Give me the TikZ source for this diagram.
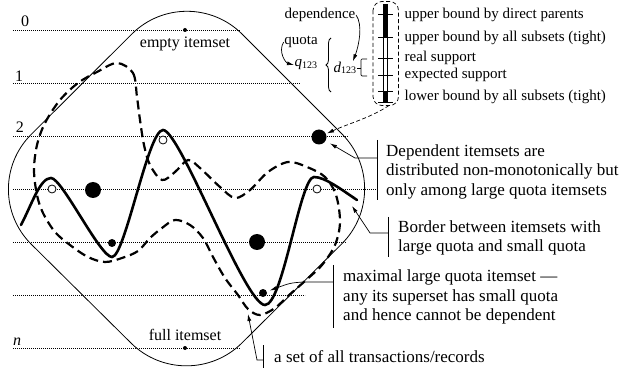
\documentclass[tikz,border=0pt]{standalone}
\usepackage{fontspec}
\setmainfont{Liberation Serif}
\usetikzlibrary{arrows.meta,decorations.pathreplacing}
\begin{document}
\begin{tikzpicture}[x=1pt,y=-1pt,
  lev/.style={line width=0.6pt, dash pattern=on 0.7pt off 1.3pt},
  bound/.style={line width=0.8pt},
  border/.style={line width=2.6pt},
  dline/.style={line width=2.2pt, dash pattern=on 9pt off 5pt},
  leader/.style={line width=0.7pt},
  arr/.style={leader, -{Latex[length=7pt,width=4pt]}},
  bigdot/.style={circle, fill=black, inner sep=0pt, minimum size=16pt},
  depdot/.style={circle, fill=black, inner sep=0pt, minimum size=15pt},
  smalldot/.style={circle, fill=black, inner sep=0pt, minimum size=8pt},
  tinydot/.style={circle, fill=black, inner sep=0pt, minimum size=4pt},
  hollow/.style={circle, draw=black, line width=0.8pt, fill=white, inner sep=0pt, minimum size=8pt},
  lbl/.style={font=\fontsize{17}{19.5}\selectfont, align=left, inner sep=0pt},
  sm/.style={font=\fontsize{15}{17}\selectfont, inner sep=0.5pt},
  md/.style={font=\fontsize{16}{18}\selectfont, inner sep=0.5pt}
]
\useasboundingbox (0,0) rectangle (624,374);

% level lines
\foreach \yy/\xe in {30/240, 83/300, 136/348, 189/376, 242/346, 295/305, 348/240}
  \draw[lev] (13,\yy) -- (\xe,\yy);
\node[md] (l0) at (25,21) {0};
\node[md] (l1) at (19,76) {1};
\node[md] (l2) at (20,127) {2};
\node[md] (ln) at (17,342) {\textit{n}};

% outer set of transactions
\draw[bound, rounded corners=78pt] (187,-21) -- (-24,189.5) -- (186.5,398) -- (397,189) -- cycle;

% dashed curve
\draw[dline] plot[smooth cycle, tension=0.55] coordinates {
 (117,63) (133,73) (137,97) (140,120) (144,145) (150,165) (162,180) (175,172)
 (188,160) (200,168) (220,187) (235,198) (250,190) (268,172) (288,162) (307,167)
 (325,177) (336,195) (340,222) (335,245) (322,265) (305,281) (288,296) (275,308)
 (260,315) (248,309) (238,295) (225,278) (213,257) (203,238) (190,225) (175,220)
 (162,228) (150,238) (138,251) (122,258) (105,262) (88,257) (70,245) (55,232)
 (43,213) (37,195) (34,170) (37,145) (45,123) (60,100) (78,83) (97,72)};

% solid border curve
\draw[border, line cap=round] (21,225) .. controls (32,204) and (40,178) .. (51,178)
  .. controls (62,178) and (100,257) .. (112,257)
  .. controls (125,257) and (148,130) .. (163,130)
  .. controls (180,130) and (245,305) .. (265,305)
  .. controls (283,305) and (300,177) .. (314,177)
  .. controls (325,177) and (342,190) .. (357,200);

% dots
\node[tinydot] (empty) at (185,30) {};
\node[tinydot] (full) at (185,348) {};
\node[bigdot] (dA) at (93,190) {};
\node[bigdot] (dB) at (257,242) {};
\node[depdot] (dC) at (319,137) {};
\node[smalldot] (mA) at (112,243) {};
\node[smalldot] (mB) at (263,293) {};
\node[hollow] (wA) at (52,189) {};
\node[hollow] (wB) at (163,140) {};
\node[hollow] (wC) at (317,189) {};

\node[md] (tempty) at (185,44) {empty itemset};
\node[md] (tfull) at (185,335) {full itemset};

% support bar
\fill (382.5,4) rectangle (387.5,38);
\fill (382.5,92) rectangle (387.5,103);
\draw[line width=0.6pt] (382.8,38) -- (382.8,92) (387.2,38) -- (387.2,92);
\foreach \yy in {15,38,59,76,92,103}
  \draw[line width=1pt] (378,\yy) -- (393,\yy);
\draw[leader, dashed, dash pattern=on 4pt off 2.5pt, rounded corners=9pt] (373,1.5) rectangle (398.5,105.5);
\coordinate (boxb) at (389,105.5);

\node[sm, anchor=west] (u1) at (404,15) {upper bound by direct parents};
\node[sm, anchor=west] (u2) at (404,37.5) {upper bound by all subsets (tight)};
\node[sm, anchor=west] (rs) at (404,57.5) {real support};
\node[sm, anchor=west] (es) at (404,74.5) {expected support};
\node[sm, anchor=west] (lb) at (404,96.5) {lower bound by all subsets (tight)};

\node[sm] (tdepend) at (320,15) {dependence};
\node[sm] (tquota) at (301,42) {quota};
\node[sm, anchor=west] (q) at (294,65) {\textit{q}\raisebox{-1.5pt}{\fontsize{10}{10}\selectfont 123}};
\node[sm, anchor=west] (d) at (333,68) {\textit{d}\raisebox{-1.5pt}{\fontsize{10}{10}\selectfont 123}};

\draw[line width=0.8pt, decorate, decoration={brace, amplitude=5pt}] (331,92) -- (331,38);
\draw[leader, rounded corners=1pt] (367,59) -| (361,76) -- (367,76);
\draw[leader] (d.east) -- (361,68);

\draw[arr] (tquota.west) .. controls +(-6,10) and +(-8,-2) .. (q.west);
\draw[arr] (tdepend.east) .. controls +(7,10) and +(6,-16) .. ([xshift=-4pt]d.north east);
\draw[arr, dashed, dash pattern=on 4pt off 2.5pt, shorten >=1pt] (boxb) .. controls (370,118) and (350,123) .. (dC);

% right annotations
\node[lbl, anchor=west] (tdep) at (386,171.5) {Dependent itemsets are\\distributed non-monotonically but\\only among large quota itemsets};
\draw[leader] (377,140) -- (377,200);
\coordinate (depL) at (377,158);
\draw[arr, shorten >=5pt] (depL) -- (355,158) -- (dC);

\node[lbl, anchor=west] (tbor) at (398,238) {Border between itemsets with\\large quota and small quota};
\draw[leader] (388,217) -- (388,257);
\coordinate (borL) at (388,233);
\coordinate (borT) at (352,206);
\draw[arr] (borL) -- (370,233) -- (borT);

\node[lbl, anchor=west] (tmax) at (343,297) {maximal large quota itemset —\\any its superset has small quota\\and hence cannot be dependent};
\draw[leader] (333,265) -- (333,328);
\coordinate (maxL) at (333,282);
\draw[arr, shorten >=3pt] (maxL) -- (303,282) .. controls (290,283) .. (mB);

\node[lbl, anchor=west] (tset) at (274,357) {a set of all transactions/records};
\draw[leader] (263,345) -- (263,368);
\coordinate (setL) at (263,360);
\coordinate (setT) at (248,314);
\draw[arr] (setL) -- (257,360) -- (setT);
\end{tikzpicture}
\end{document}
